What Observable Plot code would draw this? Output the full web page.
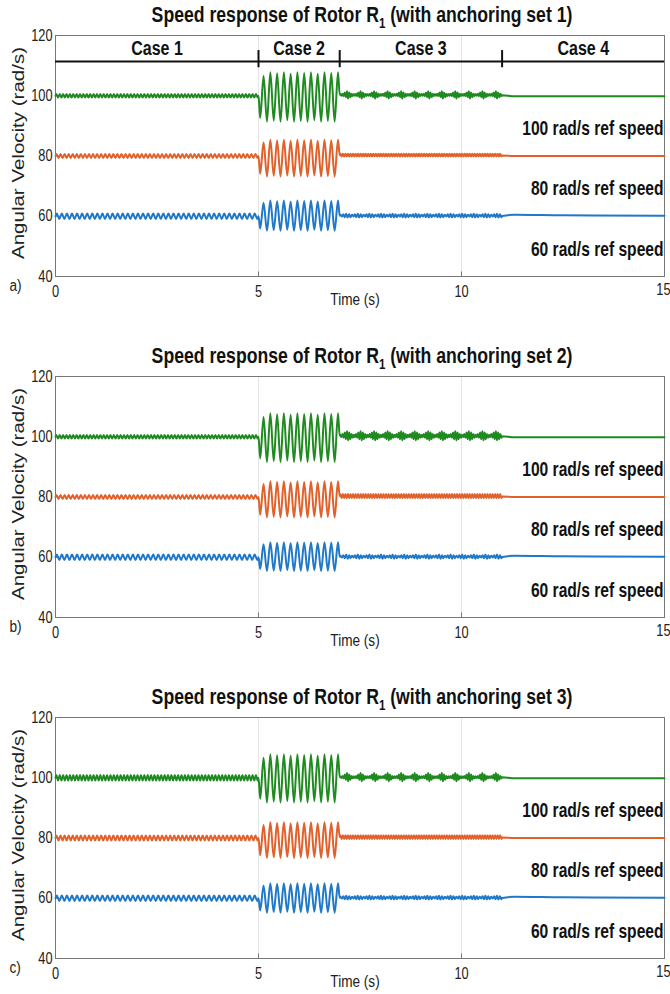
<!DOCTYPE html>
<html>
<head>
<meta charset="utf-8">
<script src="https://cdn.jsdelivr.net/npm/d3@7"></script>
<script src="https://cdn.jsdelivr.net/npm/@observablehq/plot@0.6"></script>
<style>
  body { margin: 0; background: #fff; }
  .panel { position: relative; width: 670px; overflow: hidden; }
  .title { position: absolute; top: 4px; left: 27px; width: 670px; text-align: center;
           font-family: "Liberation Sans", Arial, sans-serif;
           font-weight: bold; font-size: 21.5px; line-height: 22px; color: #111; white-space: nowrap;
           transform: scaleX(0.82); transform-origin: 335px 0; }
  .title sub { font-size: 14px; vertical-align: -6px; line-height: 0; }
  .ylab { position: absolute; width: 300px; height: 24px; line-height: 24px; text-align: center;
          font-family: "Liberation Sans", Arial, sans-serif; font-size: 20.5px; color: #222;
          transform: rotate(-90deg) scaleY(0.85); white-space: nowrap; }
  svg { position: absolute; left: 0; top: 0; }
</style>
</head>
<body>
<div id="root"></div>
<script>
// ---------- data ----------
const panelLabels = ["a)", "b)", "c)"];
const anchoringSets = ["1", "2", "3"];
const refSpeeds = [100, 80, 60];                 // green, orange, blue
const seriesColors = ["#1f8a1f", "#e2602a", "#1f78c8"];
const refLabels = ["100 rad/s ref speed", "80 rad/s ref speed", "60 rad/s ref speed"];
const caseNames = ["Case 1", "Case 2", "Case 3", "Case 4"];
const caseCenters = [2.5, 6, 9, 13];
const caseDividers = [5, 7, 11];
const xTicks = [0, 5, 10, 15];
const yTicks = [40, 60, 80, 100, 120];
const gridX = [5, 10];

// Case 1 (0-5 s): number of cycles and half-amplitude [panel][series]
const case1Cycles = [60, 50, 40];
const case1Amp = [[0.6, 0.7, 0.9], [0.6, 0.7, 0.9], [0.9, 0.8, 0.9]];

// Case 2 (5-7 s): cycles, peak and trough values [panel][series]
const case2Cycles = 12;
const case2Peak = [[107.8, 85.4, 65.2], [107.8, 85.2, 65.0], [107.8, 85.2, 65.0]];
const case2Trough = [[91.4, 73.2, 55.2], [91.6, 73.2, 55.4], [91.8, 73.4, 55.2]];
const case2Beat = [0.85, 1.0, 0.96, 1.0, 0.94, 1.0, 0.97, 1.0, 0.94, 1.0, 0.97, 1.0];

// Case 3 (7-11 s): cycles, mean level, envelope (repeating per cycle) [panel][series]
const case3Cycles = [72, 64, 56];
const case3Level = [[100.3, 80.3, 60.2], [100.3, 80.3, 60.2], [100.2, 80.3, 60.2]];
const case3Env = [
  [[0.3, 0.4, 0.8, 1.2, 0.8, 0.4], [0.45], [0.3, 0.5, 0.6, 0.5]],
  [[0.4, 0.6, 1.1, 1.5, 1.1, 0.6], [0.7], [0.3, 0.5, 0.7, 0.5]],
  [[0.3, 0.4, 0.9, 1.4, 0.9, 0.4], [0.6], [0.3, 0.5, 0.6, 0.5]]
];

// Case 4 (11-15 s): settled trace points [time, value] per series
const case4Green = [[11, 100.2], [11.3, 99.8], [15, 99.8]];
const case4Orange = [[11, 80.2], [11.3, 80.0], [15, 80.0]];
const case4Blue = [[11, 60.1], [11.3, 60.5], [12.5, 60.3], [15, 60.2]];
const case4Traces = [case4Green, case4Orange, case4Blue];

// ---------- build traces from the readings ----------
function alternate(t0, t1, n, center, ampOf, firstSign) {
  const out = [];
  const dt = (t1 - t0) / (2 * n);
  for (let k = 0; k < 2 * n; k++) {
    const sign = (k % 2 === 0 ? 1 : -1) * firstSign;
    out.push({t: t0 + (k + 0.5) * dt, v: center + sign * ampOf(Math.floor(k / 2))});
  }
  return out;
}

function buildTrace(p, s) {
  const ref = refSpeeds[s];
  const pts = [{t: 0, v: ref}];
  pts.push(...alternate(0, 5, case1Cycles[s], ref, () => case1Amp[p][s], 1));
  pts.push({t: 5, v: ref});
  const pk = case2Peak[p][s], tr = case2Trough[p][s];
  const mid = (pk + tr) / 2, half = (pk - tr) / 2;
  pts.push(...alternate(5, 7, case2Cycles, mid, i => half * case2Beat[i], -1));
  const lvl = case3Level[p][s];
  pts.push({t: 7, v: lvl});
  const env = case3Env[p][s];
  pts.push(...alternate(7, 11, case3Cycles[s], lvl, i => env[i % env.length], 1));
  for (const [t, v] of case4Traces[s]) pts.push({t, v});
  return pts.map(d => ({...d, s}));
}

const sans = '"Liberation Sans", Arial, sans-serif';
const root = document.getElementById("root");

for (let p = 0; p < 3; p++) {
  const H = 341;
  const panel = document.createElement("div");
  panel.className = "panel";
  panel.style.height = (p < 2 ? 341 : 312) + "px";

  const marks = [
    Plot.ruleX(gridX, {stroke: "#e4e4e4", strokeWidth: 1}),
    Plot.frame({stroke: "#777", strokeWidth: 1}),
    Plot.ruleX(xTicks.slice(1, 3), {y1: 40, y2: 41.5, stroke: "#777"}),
    Plot.ruleY(yTicks.slice(1, 4), {x1: 0, x2: 0.12, stroke: "#777"}),
    Plot.axisX({ticks: xTicks.slice(0, 3), tickSize: 0, tickPadding: 9, fontSize: 16, fontFamily: sans, label: null, color: "#222"}),
    Plot.text([String(xTicks[3])], {x: xTicks[3], frameAnchor: "bottom", textAnchor: "end", dx: 6, dy: 18, fontSize: 16, fontFamily: sans, fill: "#222"}),
    Plot.axisY({ticks: yTicks, tickSize: 0, tickPadding: 3, fontSize: 16, fontFamily: sans, label: null, color: "#222"}),
  ];
  for (let s = 0; s < 3; s++) {
    marks.push(Plot.line(buildTrace(p, s), {x: "t", y: "v", stroke: seriesColors[s], strokeWidth: 2, curve: "monotone-x"}));
  }
  marks.push(Plot.text(refLabels, {
    x: 15, y: (d, i) => refSpeeds[i] - 11, text: d => d, textAnchor: "end", dx: -1,
    fontSize: 19.5, fontWeight: "bold", fontFamily: sans, fill: "#111"
  }));
  if (p === 0) {
    marks.push(Plot.ruleY([111.4], {stroke: "#111", strokeWidth: 2}));
    marks.push(Plot.ruleX(caseDividers, {y1: 109.3, y2: 115, stroke: "#111", strokeWidth: 2}));
    marks.push(Plot.text(caseNames, {
      x: (d, i) => caseCenters[i], y: 115.6, text: d => d,
      fontSize: 20, fontWeight: "bold", fontFamily: sans, fill: "#111"
    }));
  }
  marks.push(Plot.text(["Time (s)"], {frameAnchor: "bottom", dx: -5, dy: 28, fontSize: 17, fontFamily: sans, fill: "#222"}));
  marks.push(Plot.text([panelLabels[p]], {frameAnchor: "bottom-left", dx: -46, dy: 14, fontSize: 17, fontFamily: sans, fill: "#222"}));

  const svg = Plot.plot({
    width: 670, height: H,
    marginTop: 35, marginBottom: 65, marginLeft: 55, marginRight: 6,
    x: {domain: [0, 15]},
    y: {domain: [40, 120]},
    style: {background: "transparent", overflow: "visible"},
    marks
  });
  // condense all SVG text horizontally (reference text is narrow)
  svg.querySelectorAll("text").forEach(t => {
    const tr = t.getAttribute("transform") || "";
    t.setAttribute("transform", tr + " scale(0.8,1)");
  });
  panel.appendChild(svg);

  const title = document.createElement("div");
  title.className = "title";
  title.innerHTML = "Speed response of Rotor R<sub>1</sub> (with anchoring set " + anchoringSets[p] + ")";
  panel.appendChild(title);

  const yl = document.createElement("div");
  yl.className = "ylab";
  yl.textContent = "Angular Velocity (rad/s)";
  yl.style.left = (18 - 150) + "px";
  yl.style.top = (153 - 12) + "px";
  panel.appendChild(yl);

  root.appendChild(panel);
}
</script>
</body>
</html>
